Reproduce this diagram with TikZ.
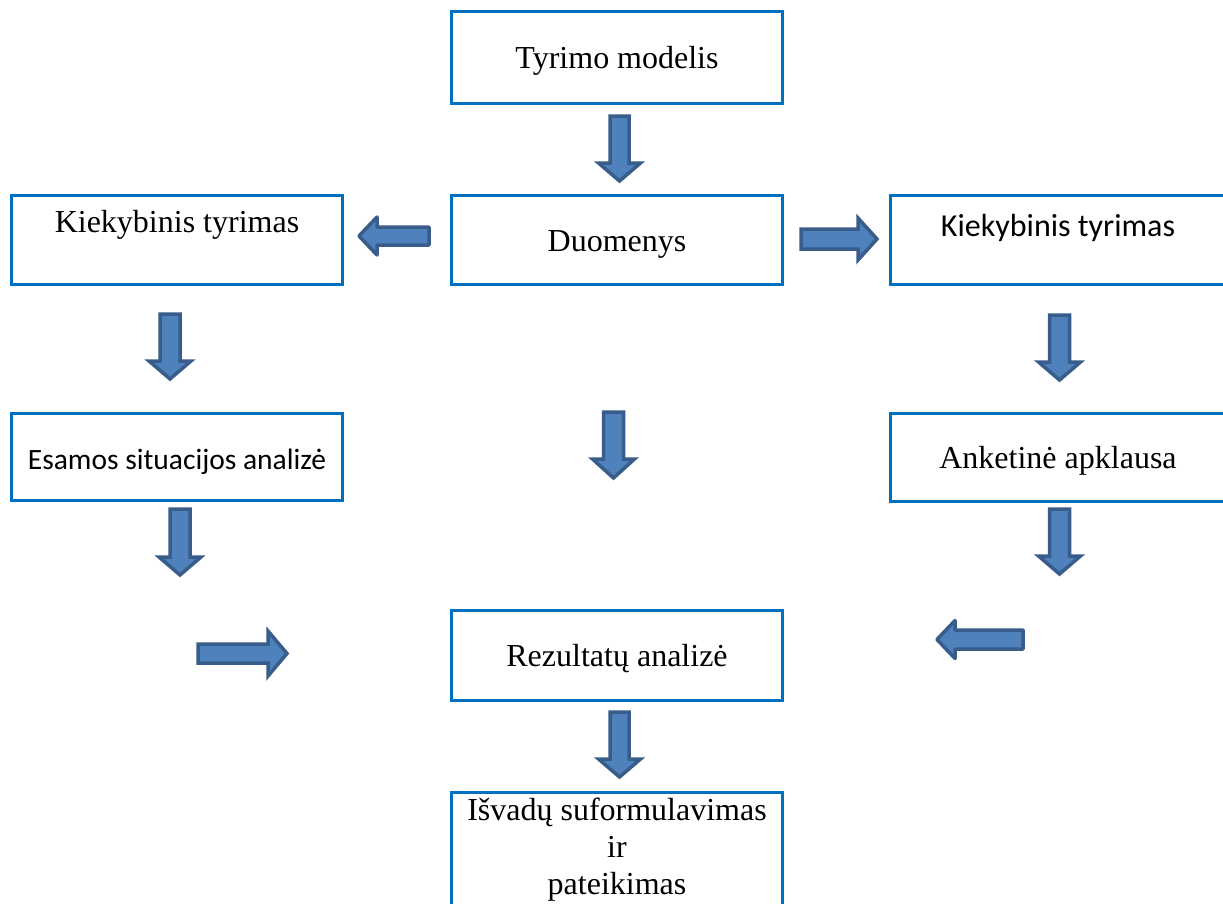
\documentclass[tikz,border=0pt]{standalone}
\usepackage{fontspec}
\setmainfont{Liberation Serif}
\newfontfamily\calfont{Carlito}
\definecolor{boxblue}{HTML}{0070C0}
\definecolor{arrfill}{HTML}{4F81BD}
\definecolor{arrline}{HTML}{385D8A}
\tikzset{
  box/.style={draw=boxblue, line width=3pt, rectangle, inner sep=0pt, outer sep=0pt, anchor=north west,
    font=\fontsize{32}{37}\selectfont, align=center},
  lowtext/.style={text height=29pt, text depth=7pt},
  calbox/.style={box, font=\calfont\fontsize{32}{38}\selectfont},
  blockarrow/.style={fill=arrfill, draw=arrline, line width=3.5pt, line join=miter},
  roundarrow/.style={blockarrow, line join=round}
}
% #1 style, #2 x, #3 y (tail centre), #4 rotation, #5 length, #6 head half width, #7 shaft half width, #8 head length
\newcommand\blockarr[8]{\draw[#1, shift={(#2,#3)}, rotate=#4] (-#7,0) -- (-#7,#5-#8) -- (-#6,#5-#8) -- (0,#5) -- (#6,#5-#8) -- (#7,#5-#8) -- (#7,0) -- cycle;}
\begin{document}
\begin{tikzpicture}[x=1pt, y=-1pt]
\useasboundingbox (0,0) rectangle (1223,903);
\clip (0,0) rectangle (1223,903);
\fill[white] (0,0) rectangle (1223,903);
% boxes
\node[box, lowtext, minimum width=331pt, minimum height=92pt] (model) at (451.5,11.5) {Tyrimo modelis};
\node[box, lowtext, minimum width=331pt, minimum height=89pt] (data) at (451.5,195.5) {Duomenys};
\node[box, minimum width=331pt, minimum height=89pt, text height=22pt, text depth=38pt] (kiekL) at (11.5,195.5) {Kiekybinis tyrimas};
\node[calbox, minimum width=335pt, minimum height=89pt, text height=20pt, text depth=28pt] (kiekR) at (890.5,195.5) {Kiekybinis tyrimas};
\node[calbox, font=\calfont\fontsize{29.5}{36}\selectfont, minimum width=331pt, minimum height=87pt, text height=30pt, text depth=6pt] (esamos) at (11.5,413.5) {Esamos situacijos analizė};
\node[box, lowtext, minimum width=335pt, minimum height=88pt] (anket) at (890.5,413.5) {Anketinė apklausa};
\node[box, lowtext, minimum width=331pt, minimum height=90pt] (rez) at (451.5,610.5) {Rezultatų analizė};
\node[box, minimum width=331pt, minimum height=115pt] (isv) at (451.5,792.5) {Išvadų suformulavimas\\ir\\pateikimas};
% block arrows
\blockarr{blockarrow}{619.5}{116}{0}{65}{21}{9.5}{18}
\blockarr{roundarrow}{429}{236}{-90}{70}{19}{9}{18}
\blockarr{blockarrow}{801}{239}{90}{76}{21}{10}{19}
\blockarr{blockarrow}{170}{314}{0}{65}{21}{10}{18}
\blockarr{blockarrow}{1059.5}{315}{0}{65}{21}{10}{18}
\blockarr{blockarrow}{613.5}{412}{0}{66}{21}{10}{19}
\blockarr{blockarrow}{180}{509}{0}{66}{21}{10}{18}
\blockarr{blockarrow}{1059.5}{509}{0}{65}{21}{10}{18}
\blockarr{blockarrow}{198}{653.5}{90}{89}{22.5}{9.5}{19}
\blockarr{roundarrow}{1023}{639.5}{-90}{86}{19}{9.5}{18}
\blockarr{blockarrow}{619.5}{712}{0}{65}{21}{9.5}{18}
\end{tikzpicture}
\end{document}
